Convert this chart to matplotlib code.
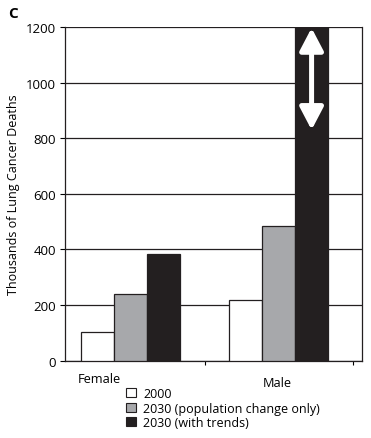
import numpy as np
import matplotlib.pyplot as plt
from matplotlib.patches import Patch, FancyArrowPatch

groups = ["Female", "Male"]
series = ["2000", "2030 (population change only)", "2030 (with trends)"]
values_2000 = [104, 217]
values_pop = [239, 483]
values_trend = [383, 1200]
colors = ["white", "#a7a8ab", "#231f20"]
yticks = [0, 200, 400, 600, 800, 1000, 1200]

plt.rcParams['font.family'] = ['Open Sans', 'DejaVu Sans']

fig = plt.figure(figsize=(3.71, 4.39), dpi=100)
ax = fig.add_axes([0.175, 0.1765, 0.801, 0.7595])

centers = np.array([1.985, 6.47])
width = 1.0
for i, (vals, col) in enumerate(zip([values_2000, values_pop, values_trend], colors)):
    ax.bar(centers + (i - 1) * width, vals, width=width, color=col,
           edgecolor="#231f20", linewidth=0.9, zorder=3)

ax.set_xlim(0, 9)
ax.set_ylim(0, 1200)
ax.set_yticks(yticks)
ax.set_yticklabels([str(v) for v in yticks], fontsize=9.5)
ax.yaxis.grid(True, color="#231f20", linewidth=0.9, zorder=0)
ax.set_xticks([4.24, 8.73])
ax.set_xticklabels([])
ax.tick_params(axis="x", length=3, width=0.8, direction="out")
ax.tick_params(axis="y", length=3.5, width=0.8, direction="out", pad=3)
for s in ax.spines.values():
    s.set_linewidth(0.9)
    s.set_color("#231f20")
ax.spines["top"].set_visible(False)

ax.set_ylabel("Thousands of Lung Cancer Deaths", fontsize=9, labelpad=4)

# category labels, male sits a bit lower
ax.text(centers[0] - 0.95, -0.035, groups[0], transform=ax.get_xaxis_transform(),
        ha="center", va="top", fontsize=9.2)
ax.text(centers[1] - 0.05, -0.045, groups[1], transform=ax.get_xaxis_transform(),
        ha="center", va="top", fontsize=9.2)

# white double arrow in the male trend bar
arrow_x = centers[1] + width
arrow = FancyArrowPatch((arrow_x, 830), (arrow_x, 1197),
                        arrowstyle="<|-|>,head_length=1.05,head_width=0.55",
                        mutation_scale=13, color="white", linewidth=3.6,
                        shrinkA=0, shrinkB=0, zorder=5)
ax.add_patch(arrow)

handles = [Patch(facecolor=c, edgecolor="#231f20", linewidth=0.8) for c in colors]
fig.legend(handles, series, loc="upper left", bbox_to_anchor=(0.34, 0.116),
           frameon=False, fontsize=9, handlelength=0.75, handleheight=0.75,
           handletextpad=0.6, labelspacing=0.12, borderaxespad=0, borderpad=0)

fig.text(0.022, 0.985, "C", fontsize=11, fontweight="bold", va="top")

fig.savefig("out.png", dpi=100)
